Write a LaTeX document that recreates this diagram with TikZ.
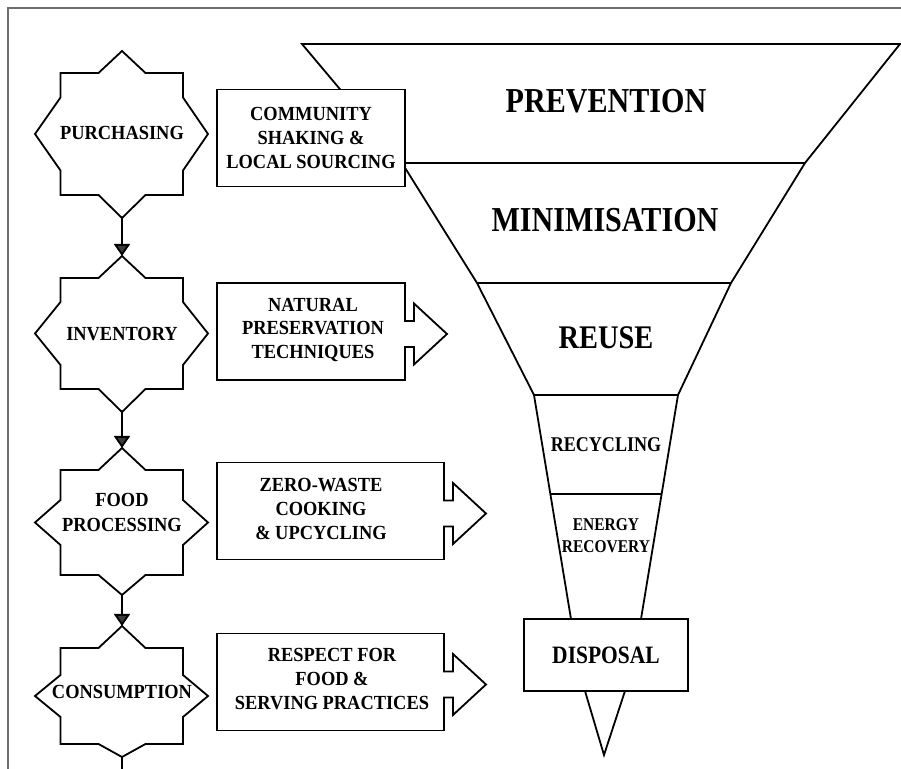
\documentclass[tikz,border=0pt]{standalone}
\usepackage{fontspec}
\setmainfont{Liberation Serif}
\newfontfamily\labelfont{Liberation Serif}[FakeStretch=0.92]
\newfontfamily\levelfont{Liberation Serif}[FakeStretch=0.86]
\usetikzlibrary{calc, arrows.meta, positioning}
\definecolor{tipgray}{HTML}{3A3A3A}
\definecolor{framegray}{HTML}{6E6E6E}
\tikzset{
	outline/.style={
			draw=black,
			line width=0.9pt,
			line join=miter
		},
	infobox/.style={
			shape=rectangle,
			outline,
			fill=white,
			minimum height=48.5pt,
			inner sep=0pt,
			outer sep=0pt
		},
	shortbox/.style={
			infobox,
			minimum width=94pt
		},
	longbox/.style={
			infobox,
			minimum width=113.5pt
		},
	boxtext/.style={
			align=center,
			font=\labelfont\bfseries\fontsize{10}{11.8}\selectfont
		},
	stagetext/.style={
			align=center,
			font=\labelfont\bfseries\fontsize{10}{12.5}\selectfont
		},
	leveltext/.style={
			align=center,
			font=\levelfont\bfseries\fontsize{#1}{11}\selectfont
		},
	flow/.style={
			draw=black,
			line width=0.9pt,
			-{Triangle[width=8pt, length=6pt, fill=tipgray]}
		}
}
% star outline: name, centre y, half square, half side base, bottom tip
\newcommand{\stageframe}[5]{%
  \draw[outline] (122,#2-#3-22) coordinate (#1-top) -- (98.5,#2-#3) -- (60.5,#2-#3)
    -- (60.5,#2-#4) -- (35,#2) -- (60.5,#2+#4) -- (60.5,#2+#3) -- (98.5,#2+#3)
    -- (122,#2+#3+#5) coordinate (#1-bot) -- (145.5,#2+#3) -- (183,#2+#3)
    -- (183,#2+#4) -- (208,#2) -- (183,#2-#4) -- (183,#2-#3) -- (145.5,#2-#3) -- cycle;
}
% arrow tab on the right side of a box
\newcommand{\arrowtab}[1]{%
  \draw[outline, fill=white] ($(#1.east)+(-1,-10.5)$) -- ++(10,0) -- ++(0,-17.5)
    -- ++(33,30.5) -- ++(-33,30.5) -- ++(0,-17.5) -- ++(-10,0);
}

\begin{document}
\begin{tikzpicture}[x=0.5pt, y=-0.5pt]

  \useasboundingbox (0,0) rectangle (901,769);
  \draw[framegray, line width=0.6pt] (901,8) -- (8,8) -- (8,769);

  \coordinate (l0) at (302,44);
  \coordinate (l1) at (402,163);
  \coordinate (l2) at (477,283);
  \coordinate (l3) at (534,395);
  \coordinate (l4) at (550.5,494);
  \coordinate (l5) at (571,619);
  \coordinate (r0) at (900,44);
  \coordinate (r1) at (805,163);
  \coordinate (r2) at (731,283);
  \coordinate (r3) at (678,395);
  \coordinate (r4) at (661.5,494);
  \coordinate (r5) at (641,619);

  \draw[outline] (l5) -- (l3) -- (l2) -- (l1) -- (l0) -- (r0) -- (r1) -- (r2) -- (r3) -- (r5);
  \draw[outline] (l1) -- (r1);
  \draw[outline] (l2) -- (r2);
  \draw[outline] (l3) -- (r3);
  \draw[outline] (l4) -- (r4);

  \node[leveltext=17.5] (prev) at (606,101) {PREVENTION};
  \node[leveltext=17.5] (mini) at (605,220) {MINIMISATION};
  \node[leveltext=16.5] (reuse) at (606,338) {REUSE};
  \node[leveltext=10.5] (recy) at (606,445) {RECYCLING};
  \node[leveltext=9] (energy) at (606,536) {ENERGY\\RECOVERY};

  \node[infobox, minimum width=82pt, minimum height=36pt, leveltext=12.5] (disp) at (606,655) {DISPOSAL};
  \coordinate (tip) at (604,755);
  \draw[outline] ($(disp.south)+(-21,0)$) -- (tip) -- ($(disp.south)+(19,0)$);

  \node[shortbox] (b1) at (311,138) {};
  \node[shortbox] (b2) at (311,331.5) {};
  \node[longbox] (b3) at (330.5,511) {};
  \node[longbox] (b4) at (330.5,682) {};
  \arrowtab{b2}
  \arrowtab{b3}
  \arrowtab{b4}

  \node[boxtext] (t1) at (311,138) {COMMUNITY\\SHAKING \&\\LOCAL SOURCING};
  \node[boxtext] (t2) at (313,330) {NATURAL\\PRESERVATION\\TECHNIQUES};
  \node[boxtext] (t3) at (321,509) {ZERO-WASTE\\COOKING\\\& UPCYCLING};
  \node[boxtext] (t4) at (332,679) {RESPECT FOR\\FOOD \&\\SERVING PRACTICES};

  \stageframe{purch}{134}{61}{36.5}{23}
  \stageframe{inv}{333.5}{55.5}{31.5}{23}
  \stageframe{food}{522.5}{52.5}{22.5}{20}
  \stageframe{cons}{696}{48}{21}{13}

  \node[stagetext] (purch) at (122,133) {PURCHASING};
  \node[stagetext] (inv) at (122,334) {INVENTORY};
  \node[stagetext] (food) at (122,512) {FOOD\\PROCESSING};
  \node[stagetext] (cons) at (122,692) {CONSUMPTION};

  \coordinate (tail) at (122,775);
  \draw[flow] (purch-bot) -- (inv-top);
  \draw[flow] (inv-bot) -- (food-top);
  \draw[flow] (food-bot) -- (cons-top);
  \draw[outline] (cons-bot) -- (tail);

\end{tikzpicture}
\end{document}
